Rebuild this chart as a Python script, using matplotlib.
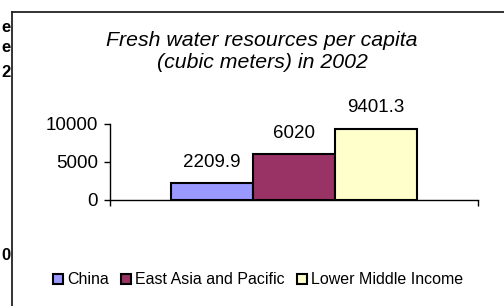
import matplotlib.pyplot as plt
import matplotlib.patches as mpatches

plt.rcParams['font.family'] = ['Liberation Sans', 'DejaVu Sans']

# data
series = ["China", "East Asia and Pacific", "Lower Middle Income"]
values = [2209.9, 6020, 9401.3]
colors = ["#9999FF", "#993366", "#FFFFCC"]
yticks = [0, 5000, 10000]

W, H = 504, 306
fig = plt.figure(figsize=(W / 100, H / 100), dpi=100)

# outer chart frame (only left and top edges are visible in the crop)
fig.add_artist(plt.Line2D([12 / W, 12 / W], [0, 1 - 12 / H], color="#222222", lw=1.3))
fig.add_artist(plt.Line2D([12 / W, 1], [1 - 12 / H, 1 - 12 / H], color="#222222", lw=1.3))

# fragments of neighbouring text at the left edge
for ch, y in [("e", 27), ("e", 47), ("2", 72), ("0", 256)]:
    fig.text(1 / W, 1 - y / H, ch, ha="left", va="center", fontsize=12, fontweight="bold")

ax = fig.add_axes([110 / W, 1 - 200 / H, 368 / W, 76 / H])
bw = 0.223
offsets = [-bw, 0, bw]
for name, v, c, off in zip(series, values, colors, offsets):
    ax.bar(1 + off, v, width=bw, color=c, edgecolor="black", linewidth=1.5, label=name)
    ax.annotate(f"{v:g}", (1 + off, v), xytext=(0, 15), textcoords="offset points",
                ha="center", va="center", fontsize=13.5, annotation_clip=False)

ax.set_xlim(0.5, 1.5)
ax.set_ylim(0, 10000)
ax.set_yticks(yticks)
ax.set_yticklabels([str(t) for t in yticks], fontsize=13.5)
ax.set_xticks([0.5, 1.5])
ax.set_xticklabels(["", ""])
ax.tick_params(axis="both", direction="out", length=4.5, width=1, pad=4)
for s in ["top", "right"]:
    ax.spines[s].set_visible(False)
for s in ["left", "bottom"]:
    ax.spines[s].set_linewidth(1)

fig.text(262 / W, 1 - 40 / H, "Fresh water resources per capita",
         ha="center", va="center", fontsize=15.3, style="italic")
fig.text(262 / W, 1 - 63 / H, "(cubic meters) in 2002",
         ha="center", va="center", fontsize=15.3, style="italic")

handles = [mpatches.Patch(facecolor=c, edgecolor="black", linewidth=1.5) for c in colors]
fig.legend(handles, series, loc="center", bbox_to_anchor=(258 / W, 1 - 280 / H), ncol=3,
           frameon=False, fontsize=11.5, handlelength=0.65, handleheight=0.65,
           handletextpad=0.25, columnspacing=0.75, borderpad=0)

fig.savefig("out.png", dpi=100)
